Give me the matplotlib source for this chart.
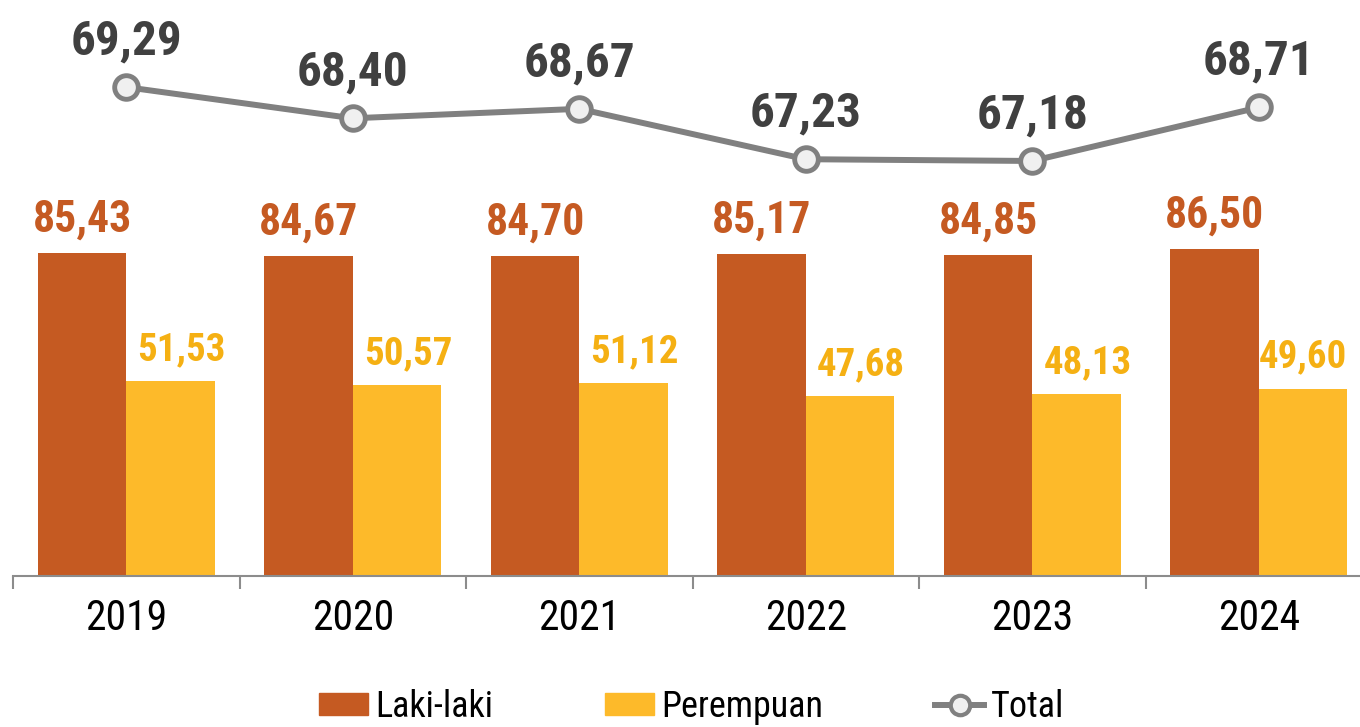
import matplotlib
matplotlib.use("Agg")
import matplotlib.pyplot as plt
import numpy as np
from matplotlib import font_manager as fm
from matplotlib.lines import Line2D
from matplotlib.patches import Patch

# data
years = ["2019", "2020", "2021", "2022", "2023", "2024"]
laki = [85.43, 84.67, 84.70, 85.17, 84.85, 86.50]
perempuan = [51.53, 50.57, 51.12, 47.68, 48.13, 49.60]
total = [69.29, 68.40, 68.67, 67.23, 67.18, 68.71]

C_LAKI = "#C55A22"
C_PEREM = "#FDBA2A"
C_PEREM_TXT = "#F5B013"
C_TOTAL = "#808080"

# the reference uses a narrow face (Arial Narrow); use a condensed one if present
cond = {}
for f in fm.fontManager.ttflist:
    if f.stretch in ("condensed", "semi-condensed", "extra-condensed") or \
            "Narrow" in f.name or "Condensed" in f.name:
        cond.setdefault(f.name, []).append(f)
prefer = ["Liberation Sans Narrow", "Arial Narrow", "Roboto Condensed", "DejaVu Sans",
          "Noto Sans", "Open Sans Condensed", "Open Sans"]
family = next((n for n in prefer if n in cond), None)
if family is None and cond:
    family = sorted(cond)[0]
if family is not None:
    plt.rcParams["font.family"] = [family, "DejaVu Sans"]
    plt.rcParams["font.stretch"] = "condensed"
    k = 1.0
else:
    plt.rcParams["font.family"] = ["Liberation Sans", "DejaVu Sans"]
    k = 0.85


def fmt(v):
    return f"{v:.2f}".replace(".", ",")


fig = plt.figure(figsize=(13.6, 7.27), dpi=100)
ax = fig.add_axes([13 / 1360, 151 / 727, 1359 / 1360, 576 / 727])
x = np.arange(len(years))
w = 0.39

ax.bar(x - w / 2, laki, w, color=C_LAKI, label="Laki-laki")
ax.bar(x + w / 2, perempuan, w, color=C_PEREM, label="Perempuan")
ax.set_xlim(-0.5, len(years) - 0.5)
ax.set_ylim(0, 152.4)

for xi, v in zip(x, laki):
    ax.annotate(fmt(v), (xi - w / 2, v), xytext=(0, 15.5), textcoords="offset points",
                ha="center", va="baseline", fontsize=31.5 * k, fontweight="bold", color=C_LAKI)
for i, (xi, v) in enumerate(zip(x, perempuan)):
    dx = 0 if i == len(x) - 1 else 8   # last label is pulled in from the edge
    ax.annotate(fmt(v), (xi + w / 2, v), xytext=(dx, 15), textcoords="offset points",
                ha="center", va="baseline", fontsize=28 * k, fontweight="bold", color=C_PEREM_TXT)

for s in ["left", "right", "top"]:
    ax.spines[s].set_visible(False)
ax.spines["bottom"].set_color("#8c8c8c")
ax.spines["bottom"].set_linewidth(1.5)
ax.set_yticks([])
ax.set_xticks(x)
ax.set_xticklabels(years, fontsize=30 * k)
ax.tick_params(axis="x", which="major", length=0, pad=16)
ax.set_xticks(np.arange(len(years) + 1) - 0.5, minor=True)
ax.tick_params(axis="x", which="minor", length=9, width=1.5, color="#8c8c8c")

ax2 = ax.twinx()
ax2.plot(x, total, color=C_TOTAL, lw=4.3, marker="o", ms=17, mfc="#F0F0F0",
         mec=C_TOTAL, mew=3.5, label="Total", zorder=3)
ax2.set_ylim(55.32, 71.78)
ax2.set_yticks([])
for s in ax2.spines.values():
    s.set_visible(False)
for xi, v in zip(x, total):
    ax2.annotate(fmt(v), (xi, v), xytext=(0, 23.5), textcoords="offset points",
                 ha="center", va="baseline", fontsize=35.5 * k, fontweight="bold", color="#404040")

handles = [
    Patch(color=C_LAKI, label="Laki-laki"),
    Patch(color=C_PEREM, label="Perempuan"),
    Line2D([], [], color=C_TOTAL, lw=4.3, marker="o", ms=14, mfc="#F0F0F0",
           mec=C_TOTAL, mew=3, label="Total"),
]
fig.legend(handles=handles, loc="center", bbox_to_anchor=(692 / 1360, 1 - 707 / 727),
           ncol=3, frameon=False, fontsize=26 * k, handlelength=1.35 / k, handleheight=0.57 / k,
           handletextpad=0.2, columnspacing=3.1 / k, borderpad=0)

fig.savefig("out.png", dpi=100)
